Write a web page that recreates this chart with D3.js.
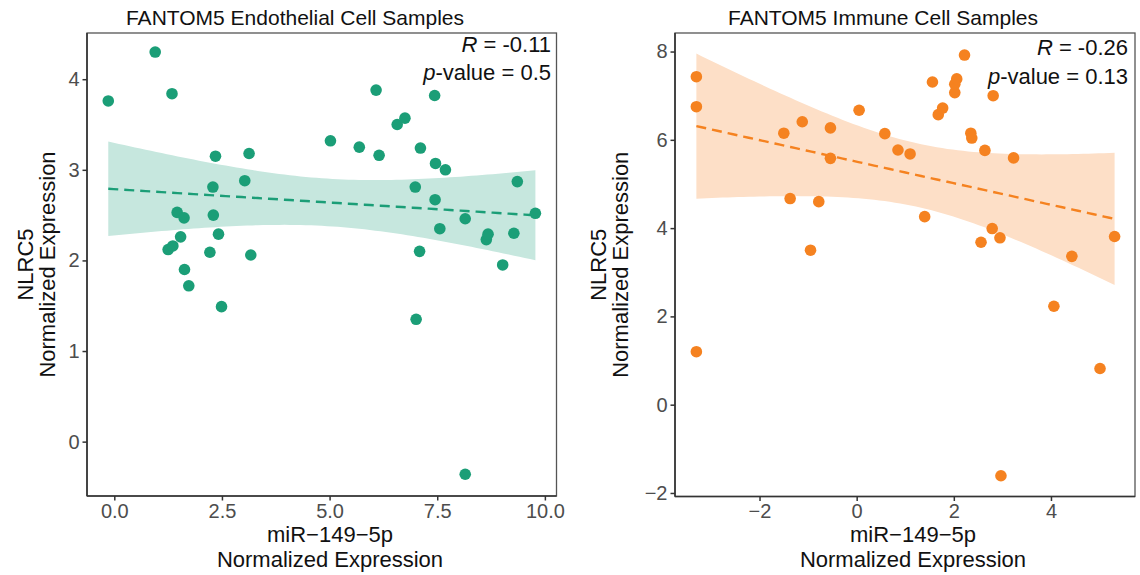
<!DOCTYPE html>
<html>
<head>
<meta charset="utf-8">
<script src="https://cdn.jsdelivr.net/npm/d3@7"></script>
<style>
  body { margin: 0; background: #fff; }
  svg { display: block; font-family: "Liberation Sans", Arial, sans-serif; }
</style>
</head>
<body>
<svg id="chart" width="1140" height="575"></svg>
<script>
// ---------- data ----------
const endoX = [-0.14, 0.95, 1.34, 1.46, 1.62, 1.25, 1.36, 1.54, 1.63, 1.73, 2.35, 2.29, 2.30, 2.42, 2.22,
  3.03, 3.13, 3.17, 2.49, 5.02, 5.69, 6.15, 6.08, 6.57, 6.75, 7.44, 7.11, 7.46, 7.69, 6.99, 7.45, 7.56,
  7.09, 7.01, 8.15, 8.15, 8.64, 8.68, 9.28, 9.36, 9.02, 9.78];
const endoY = [3.76, 4.30, 3.84, 2.53, 2.47, 2.12, 2.16, 2.26, 1.90, 1.72, 3.15, 2.81, 2.50, 2.29, 2.09,
  2.88, 3.18, 2.06, 1.49, 3.32, 3.25, 3.16, 3.88, 3.50, 3.57, 3.82, 3.24, 3.07, 3.00, 2.81, 2.67, 2.35,
  2.10, 1.35, -0.36, 2.46, 2.23, 2.29, 2.30, 2.87, 1.95, 2.52];

const immX = [-3.30, -3.30, -3.30, -1.50, -1.12, -1.37, -0.78, -0.95, -0.54, -0.54, 0.05, 0.58, 0.85, 1.10,
  1.40, 1.56, 1.68, 1.77, 2.02, 2.02, 2.06, 2.22, 2.35, 2.37, 2.64, 2.81, 2.79, 2.56, 2.95, 3.23, 2.97,
  4.06, 4.43, 5.01, 5.31];
const immY = [7.43, 6.75, 1.20, 6.15, 6.41, 4.67, 4.60, 3.50, 6.27, 5.58, 6.67, 6.14, 5.77, 5.68,
  4.26, 7.31, 6.57, 6.72, 7.07, 7.26, 7.38, 7.92, 6.15, 6.04, 5.76, 7.00, 3.99, 3.68, 3.78, 5.59, -1.61,
  2.23, 3.36, 0.82, 3.81];

const endoXTicks = [0, 2.5, 5, 7.5, 10];
const endoYTicks = [0, 1, 2, 3, 4];
const immXTicks = [-2, 0, 2, 4];
const immYTicks = [-2, 0, 2, 4, 6, 8];

const titles = ["FANTOM5 Endothelial Cell Samples", "FANTOM5 Immune Cell Samples"];
const rLabels = ["-0.11", "-0.26"];
const pLabels = ["0.5", "0.13"];
const xTitle = ["miR\u2212149\u22125p", "Normalized Expression"];
const yTitle = ["NLRC5", "Normalized Expression"];
const tCrit = [2.021, 2.035];   // 95% t quantiles for n-2 df

// ---------- layout ----------
const intFmt = d => d3.format("d")(d).replace("-", "\u2212");
const panels = [
  { xs: endoX, ys: endoY, xTicks: endoXTicks, yTicks: endoYTicks,
    xFmt: d3.format(".1f"), yFmt: intFmt,
    color: "#1b9e77", band: "#c6e7de",
    left: 87, right: 556.5, top: 33, bottom: 496,
    xDom: [-0.634, 10.27], yDom: [-0.60, 4.51],
    titleX: 295, xTitleX: 330, yTitleX: 33, rX: 551, rY: 52, pY: 80, t: tCrit[0] },
  { xs: immX, ys: immY, xTicks: immXTicks, yTicks: immYTicks,
    xFmt: intFmt, yFmt: intFmt,
    color: "#f58220", band: "#fddfc7",
    left: 675, right: 1135, top: 33, bottom: 496.5,
    xDom: [-3.74, 5.73], yDom: [-2.08, 8.42],
    titleX: 883, xTitleX: 913, yTitleX: 606, rX: 1128, rY: 55, pY: 84, t: tCrit[1] }
];

const svg = d3.select("#chart");

function fitLM(xs, ys, t) {
  const n = xs.length;
  const mx = d3.mean(xs), my = d3.mean(ys);
  let sxx = 0, sxy = 0;
  for (let i = 0; i < n; i++) { sxx += (xs[i] - mx) ** 2; sxy += (xs[i] - mx) * (ys[i] - my); }
  const b = sxy / sxx, a = my - b * mx;
  let sse = 0;
  for (let i = 0; i < n; i++) sse += (ys[i] - (a + b * xs[i])) ** 2;
  const s = Math.sqrt(sse / (n - 2));
  const [x0, x1] = d3.extent(xs);
  return d3.range(0, 81).map(k => {
    const x = x0 + (x1 - x0) * k / 80;
    const yhat = a + b * x;
    const se = s * Math.sqrt(1 / n + (x - mx) ** 2 / sxx);
    return { x, y: yhat, lo: yhat - t * se, hi: yhat + t * se };
  });
}

panels.forEach((p, idx) => {
  const x = d3.scaleLinear().domain(p.xDom).range([p.left, p.right]);
  const y = d3.scaleLinear().domain(p.yDom).range([p.bottom, p.top]);
  const g = svg.append("g");

  const fit = fitLM(p.xs, p.ys, p.t);

  g.append("path")
    .datum(fit)
    .attr("fill", p.band)
    .attr("d", d3.area().x(d => x(d.x)).y0(d => y(d.lo)).y1(d => y(d.hi)));

  g.append("path")
    .datum(fit)
    .attr("fill", "none")
    .attr("stroke", p.color)
    .attr("stroke-width", 2.4)
    .attr("stroke-dasharray", "10,6")
    .attr("d", d3.line().x(d => x(d.x)).y(d => y(d.y)));

  g.selectAll("circle.pt")
    .data(p.xs.map((v, i) => [v, p.ys[i]]))
    .join("circle")
    .attr("class", "pt")
    .attr("cx", d => x(d[0]))
    .attr("cy", d => y(d[1]))
    .attr("r", 5.8)
    .attr("fill", p.color);

  g.append("rect")
    .attr("x", p.left).attr("y", p.top)
    .attr("width", p.right - p.left).attr("height", p.bottom - p.top)
    .attr("fill", "none").attr("stroke", "#555").attr("stroke-width", 1.3);
  g.append("line").attr("x1", p.left).attr("x2", p.left).attr("y1", p.top).attr("y2", p.bottom)
    .attr("stroke", "#333").attr("stroke-width", 1.6);
  g.append("line").attr("x1", p.left).attr("x2", p.right).attr("y1", p.bottom).attr("y2", p.bottom)
    .attr("stroke", "#333").attr("stroke-width", 1.6);

  const xAxis = d3.axisBottom(x).tickValues(p.xTicks).tickFormat(p.xFmt).tickSize(4.5).tickPadding(3);
  const yAxis = d3.axisLeft(y).tickValues(p.yTicks).tickFormat(p.yFmt).tickSize(4.5).tickPadding(3);
  const gx = g.append("g").attr("transform", `translate(0,${p.bottom})`).call(xAxis);
  const gy = g.append("g").attr("transform", `translate(${p.left},0)`).call(yAxis);
  [gx, gy].forEach(ax => {
    ax.select(".domain").remove();
    ax.selectAll(".tick line").attr("stroke", "#333").attr("stroke-width", 1.5);
    ax.selectAll(".tick text").attr("fill", "#4d4d4d").style("font-size", "20px")
      .style("font-family", "'Liberation Sans', Arial, sans-serif");
  });

  g.append("text").attr("x", p.titleX).attr("y", 25).attr("text-anchor", "middle")
    .style("font-size", "21px").attr("fill", "#111").text(titles[idx]);

  g.append("text").attr("x", p.xTitleX).attr("y", 542).attr("text-anchor", "middle")
    .style("font-size", "22px").attr("fill", "#111").text(xTitle[0]);
  g.append("text").attr("x", p.xTitleX).attr("y", 567).attr("text-anchor", "middle")
    .style("font-size", "22px").attr("fill", "#111").text(xTitle[1]);

  const cy = (p.top + p.bottom) / 2;
  g.append("text").attr("transform", `translate(${p.yTitleX},${cy}) rotate(-90)`).attr("text-anchor", "middle")
    .style("font-size", "22px").attr("fill", "#111").text(yTitle[0]);
  g.append("text").attr("transform", `translate(${p.yTitleX + 22},${cy}) rotate(-90)`).attr("text-anchor", "middle")
    .style("font-size", "22px").attr("fill", "#111").text(yTitle[1]);

  const r = g.append("text").attr("x", p.rX).attr("y", p.rY).attr("text-anchor", "end")
    .style("font-size", "22px").attr("fill", "#111");
  r.append("tspan").style("font-style", "italic").text("R");
  r.append("tspan").text(" = " + rLabels[idx]);
  const pv = g.append("text").attr("x", p.rX).attr("y", p.pY).attr("text-anchor", "end")
    .style("font-size", "22px").attr("fill", "#111");
  pv.append("tspan").style("font-style", "italic").text("p");
  pv.append("tspan").text("-value = " + pLabels[idx]);
});
</script>
</body>
</html>
